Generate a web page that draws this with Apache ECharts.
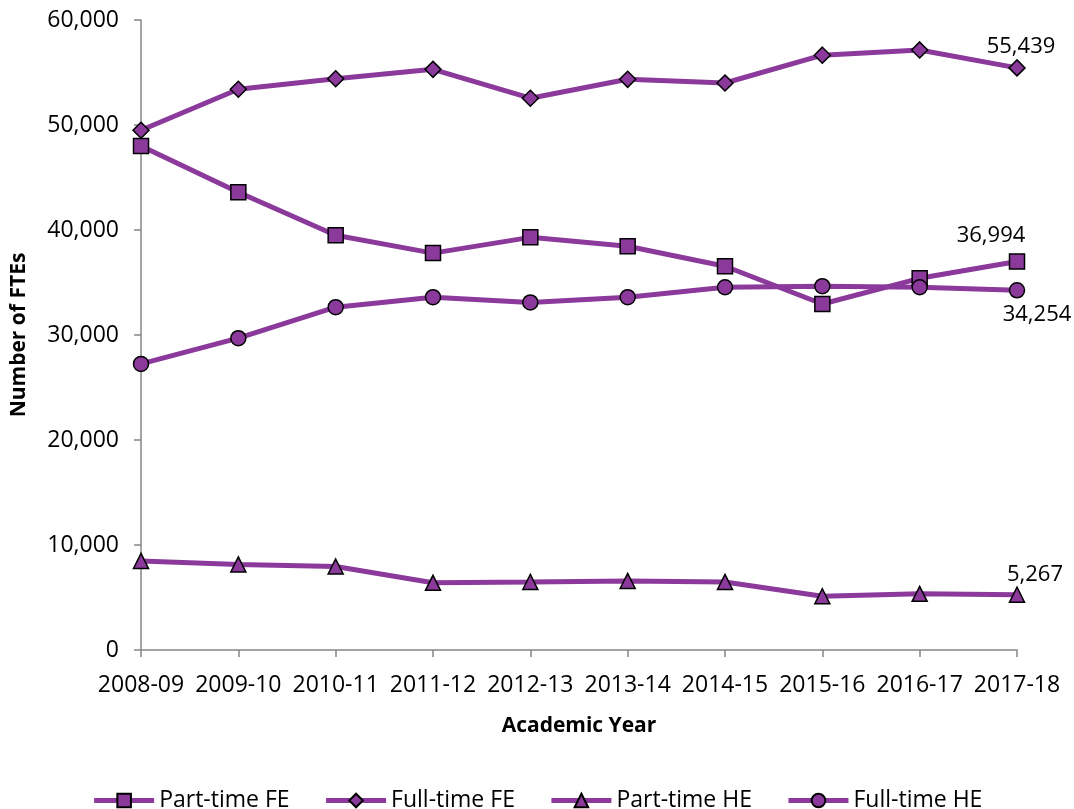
<!DOCTYPE html>
<html>
<head>
<meta charset="utf-8">
<script src="https://cdn.jsdelivr.net/npm/echarts@6/dist/echarts.min.js"></script>
<style>
  html, body { margin: 0; padding: 0; background: #fff; }
  #chart { width: 1074px; height: 809px; }
</style>
</head>
<body>
<div id="chart"></div>
<script>
// Academic years on the category axis
const years = ['2008-09', '2009-10', '2010-11', '2011-12', '2012-13',
               '2013-14', '2014-15', '2015-16', '2016-17', '2017-18'];

// Full-time-equivalent student numbers by mode and level
const partTimeFE = [48000, 43600, 39500, 37800, 39300, 38450, 36550, 32950, 35400, 36994];
const fullTimeFE = [49500, 53400, 54400, 55300, 52550, 54350, 54000, 56650, 57150, 55439];
const partTimeHE = [8480, 8150, 7950, 6400, 6480, 6580, 6480, 5120, 5350, 5267];
const fullTimeHE = [27250, 29700, 32650, 33600, 33100, 33600, 34550, 34650, 34550, 34254];

const yTicks = { min: 0, max: 60000, interval: 10000 };

const PURPLE = '#8B3A9C';
const AXIS_GREY = '#868686';
const FONT = '"Open Sans", "Liberation Sans", sans-serif';

const chart = echarts.init(document.getElementById('chart'));

function lastLabel(pos, offset) {
  return {
    show: true,
    position: pos,
    offset: offset,
    formatter: p => p.value.toLocaleString('en-GB'),
    color: '#000',
    fontFamily: FONT,
    fontSize: 22
  };
}

function makeSeries(name, data, symbol, size, label) {
  const pts = data.map((v, i) => (i === data.length - 1 && label) ? { value: v, label: label } : v);
  return {
    name: name,
    type: 'line',
    data: pts,
    symbol: symbol,
    symbolSize: size,
    showAllSymbol: true,
    lineStyle: { color: PURPLE, width: 5 },
    itemStyle: { color: PURPLE, borderColor: '#000', borderWidth: 1.5 },
    emphasis: { disabled: true },
    animation: false
  };
}

chart.setOption({
  animation: false,
  grid: { left: 141, right: 57, top: 20, bottom: 159, outerBoundsMode: 'none', containLabel: false },
  xAxis: {
    type: 'category',
    data: years,
    boundaryGap: false,
    name: 'Academic Year',
    nameLocation: 'middle',
    nameGap: 66,
    nameTextStyle: { fontFamily: FONT, fontSize: 21, fontWeight: 'bold', color: '#000' },
    axisLine: { lineStyle: { color: AXIS_GREY, width: 1.5 } },
    axisTick: { show: true, alignWithLabel: true, length: 7, lineStyle: { color: AXIS_GREY, width: 1.5 } },
    axisLabel: { fontFamily: FONT, fontSize: 23, color: '#000', margin: 24, interval: 0 },
    splitLine: { show: false }
  },
  yAxis: {
    type: 'value',
    min: yTicks.min,
    max: yTicks.max,
    interval: yTicks.interval,
    name: 'Number of FTEs',
    nameLocation: 'middle',
    nameGap: 111,
    nameRotate: 90,
    nameTextStyle: { fontFamily: FONT, fontSize: 21, fontWeight: 'bold', color: '#000' },
    axisLine: { show: true, lineStyle: { color: AXIS_GREY, width: 1.5 } },
    axisTick: { show: true, length: 7, lineStyle: { color: AXIS_GREY, width: 1.5 } },
    axisLabel: {
      fontFamily: FONT, fontSize: 23, color: '#000', margin: 22,
      formatter: v => v.toLocaleString('en-GB')
    },
    splitLine: { show: false }
  },
  legend: {
    top: 784,
    left: 'center',
    itemWidth: 60,
    itemHeight: 17,
    itemGap: 34,
    lineStyle: { width: 5 },
    textStyle: { fontFamily: FONT, fontSize: 23, color: '#000' },
    data: ['Part-time FE', 'Full-time FE', 'Part-time HE', 'Full-time HE']
  },
  series: [
    makeSeries('Part-time FE', partTimeFE, 'rect', 15, lastLabel('top', [-26, -2])),
    makeSeries('Full-time FE', fullTimeFE, 'diamond', 16, lastLabel('top', [4, 4])),
    makeSeries('Part-time HE', partTimeHE, 'triangle', 15, lastLabel('top', [18, 4])),
    makeSeries('Full-time HE', fullTimeHE, 'circle', 15, lastLabel('bottom', [20, 0]))
  ]
});
</script>
</body>
</html>
